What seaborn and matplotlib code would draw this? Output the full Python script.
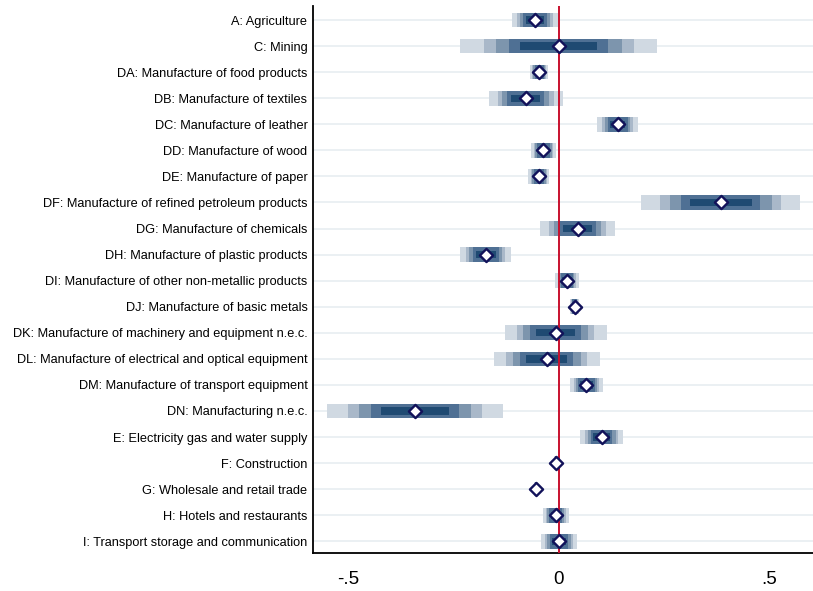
import numpy as np
import pandas as pd
import matplotlib
matplotlib.use("Agg")
import matplotlib.pyplot as plt
import seaborn as sns

categories = [
    "A: Agriculture",
    "C: Mining",
    "DA: Manufacture of food products",
    "DB: Manufacture of textiles",
    "DC: Manufacture of leather",
    "DD: Manufacture of wood",
    "DE: Manufacture of paper",
    "DF: Manufacture of refined petroleum products",
    "DG: Manufacture of chemicals",
    "DH: Manufacture of plastic products",
    "DI: Manufacture of other non-metallic products",
    "DJ: Manufacture of basic metals",
    "DK: Manufacture of machinery and equipment n.e.c.",
    "DL: Manufacture of electrical and optical equipment",
    "DM: Manufacture of transport equipment",
    "DN: Manufacturing n.e.c.",
    "E: Electricity gas and water supply",
    "F: Construction",
    "G: Wholesale and retail trade",
    "H: Hotels and restaurants",
    "I: Transport storage and communication",
]
coef = [-0.057, -0.001, -0.047, -0.079, 0.139, -0.037, -0.048, 0.384, 0.044, -0.174,
        0.019, 0.037, -0.008, -0.029, 0.065, -0.342, 0.101, -0.007, -0.055, -0.008, 0.000]
se = [0.0214, 0.0909, 0.0085, 0.0340, 0.0185, 0.0118, 0.0097, 0.0734, 0.0343, 0.0237,
      0.0108, 0.0040, 0.0470, 0.0490, 0.0151, 0.0814, 0.0202, 0.0015, 0.0015, 0.0120, 0.0168]

# confidence levels (z multipliers) from widest to narrowest
z_levels = [2.576, 1.960, 1.645, 1.282, 1.000]
band_colors = ["#d0d9e2", "#a9b8c9", "#7d95ad", "#4f7094", "#1f4a72"]
band_heights = [0.56, 0.56, 0.56, 0.56, 0.28]

df = pd.DataFrame({"category": categories, "coef": coef, "se": se})
df["pos"] = np.arange(len(df))

sns.set_style("white")
plt.rcParams["font.family"] = ["Liberation Sans", "DejaVu Sans"]
plt.rcParams["text.color"] = "black"
plt.rcParams["xtick.color"] = "black"
plt.rcParams["ytick.color"] = "black"

fig = plt.figure(figsize=(8.13, 5.91), dpi=100)
ax = fig.add_axes([313 / 813, 1 - 553 / 591, 500 / 813, (553 - 6) / 591])

for p in df["pos"]:
    ax.axhline(p, color="#e9eff2", lw=1.3, zorder=0)

for z, c, h in zip(z_levels, band_colors, band_heights):
    ax.barh(df["pos"], 2 * z * df["se"], left=df["coef"] - z * df["se"],
            height=h, color=c, linewidth=0, zorder=2)

ax.axvline(0, color="#c8102e", lw=1.4, zorder=3)

sns.scatterplot(data=df, x="coef", y="pos", marker="D", s=45, color="white",
                edgecolor="#12125a", linewidth=1.7, zorder=4, ax=ax, legend=False)

ax.set_xlim(-0.584, 0.603)
ax.set_ylim(len(df) - 0.55, -0.54)
ax.set_yticks(df["pos"])
ax.set_yticklabels(df["category"], fontsize=9.2, color="black")
ax.set_xticks([-0.5, 0, 0.5])
ax.set_xticklabels(["-.5", "0", ".5"], fontsize=13.5, color="black")
ax.tick_params(axis="y", length=0, pad=4)
ax.tick_params(axis="x", length=8, width=1.2, direction="out", pad=5, color="black")
ax.set_xlabel("")
ax.set_ylabel("")
for s in ["top", "right"]:
    ax.spines[s].set_visible(False)
for s in ["left", "bottom"]:
    ax.spines[s].set_color("black")
    ax.spines[s].set_linewidth(1.3)

fig.savefig("out.png", dpi=100)
